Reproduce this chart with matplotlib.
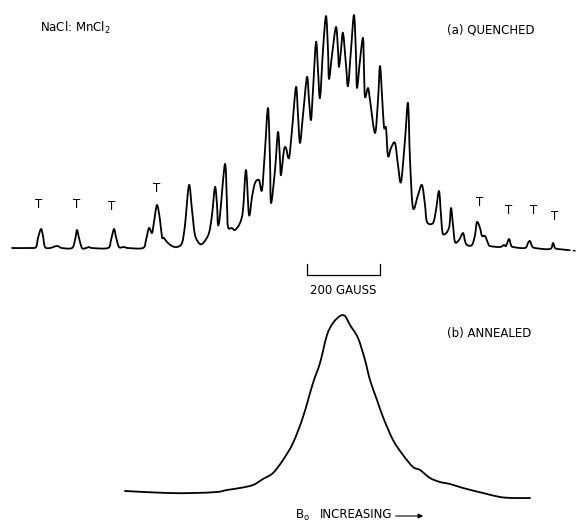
import numpy as np
from matplotlib import pyplot as plt
from matplotlib.path import Path
from matplotlib.patches import PathPatch

plt.rcParams['mathtext.default'] = 'regular'

# (a) quenched spectrum: field position (chart units) and signal above baseline
field_a = [12, 30, 36, 38, 41, 43, 45, 50, 57, 62, 72, 75, 77, 79, 82, 86, 89, 92,
           108, 111, 114, 116, 119, 124, 128, 143, 146, 149, 152, 154, 157, 160,
           162, 164, 167, 172, 177, 182, 185, 189, 192, 195, 200, 204, 209, 212,
           215, 217, 218, 220, 225, 227, 228, 232, 235, 240, 243, 246, 249, 252,
           255, 259, 262, 265, 268, 270, 271, 275, 278, 280, 281, 284, 286, 289,
           292, 296, 298, 300, 303, 307, 309, 311, 313, 316, 318, 320, 323, 326,
           328, 329, 332, 336, 338, 339, 341, 343, 346, 348, 351, 354, 356, 357,
           360, 363, 364, 365, 368, 370, 375, 378, 380, 382, 384, 386, 388, 391,
           395, 398, 401, 405, 408, 410, 413, 418, 422, 425, 427, 433, 436, 439,
           441, 443, 449, 451, 453, 455, 459, 463, 465, 467, 472, 475, 477, 480,
           482, 485, 488, 490, 500, 504, 506, 509, 511, 513, 525, 528, 530, 532,
           535, 550, 553, 555, 558, 568]
signal_a = [0, 0, 1, 10, 19, 12, 1, 0, 2, 0, 0, 8, 18, 10, 0, 0, 1, 0,
            0, 8, 19, 11, 1, 1, 0, 0, 8, 20, 15, 26, 43, 28,
            11, 10, 6, 2, 1, 5, 23, 63, 38, 13, 4, 6, 15, 33,
            61, 43, 23, 33, 84, 43, 21, 20, 18, 25, 38, 78, 33, 51,
            65, 68, 58, 98, 140, 88, 45, 78, 116, 88, 73, 98, 100, 90,
            118, 161, 133, 105, 133, 171, 148, 128, 158, 206, 178, 150, 198, 232,
            198, 169, 193, 221, 198, 181, 198, 215, 183, 162, 198, 233, 193, 160,
            188, 210, 178, 151, 160, 148, 115, 148, 182, 153, 121, 120, 92, 100,
            105, 83, 66, 108, 145, 88, 40, 53, 63, 43, 26, 25, 38, 57,
            33, 14, 20, 40, 23, 6, 8, 15, 7, 3, 3, 13, 26, 20,
            12, 12, 5, 2, 1, 3, 2, 9, 3, 1, 0, 5, 7, 2,
            0, -1, 5, 0, -1, -2]
tail_field_a = [568, 577]
tail_signal_a = [-2, -3]

# "T" marks over the lines of the second species
t_field = [39, 77, 112, 157, 480, 509, 534, 555]
t_height = [44, 44, 42, 60, 46, 38, 38, 32]

# (b) annealed spectrum
field_b = [125, 167, 193, 217, 227, 240, 253, 263, 273, 283, 293, 303, 313, 320,
           327, 333, 340, 345, 350, 358, 365, 370, 377, 383, 393, 403, 413, 420,
           430, 440, 450, 463, 483, 500, 513, 530]
signal_b = [2, 0, 0, 1, 3, 5, 8, 14, 20, 33, 50, 76, 110, 130,
            158, 170, 177, 177, 168, 155, 133, 113, 93, 76, 53, 38, 26, 23,
            15, 11, 9, 5, 0, -4, -5, -5]

bar_start, bar_end = 307, 380  # 200 gauss

base_a = 275
base_b = 30


def smooth_trace(ax, x, y, tension=0.16, **kw):
    """Pen-like curve through the traced points (Catmull-Rom as cubic Beziers)."""
    pts = np.column_stack([x, y]).astype(float)
    verts = [pts[0]]
    codes = [Path.MOVETO]
    for i in range(len(pts) - 1):
        p0 = pts[max(i - 1, 0)]
        p1, p2 = pts[i], pts[i + 1]
        p3 = pts[min(i + 2, len(pts) - 1)]
        c1 = p1 + (p2 - p0) * tension
        c2 = p2 - (p3 - p1) * tension
        # keep control points inside the segment's x range so peaks do not loop
        c1[0] = np.clip(c1[0], p1[0], p2[0])
        c2[0] = np.clip(c2[0], p1[0], p2[0])
        verts += [c1, c2, p2]
        codes += [Path.CURVE4] * 3
    ax.add_patch(PathPatch(Path(verts, codes), fill=False, **kw))


fig = plt.figure(figsize=(5.78, 5.23), dpi=100)
ax = fig.add_axes([0, 0, 1, 1])
ax.set_xlim(0, 578)
ax.set_ylim(0, 523)
ax.axis('off')

line_kw = dict(edgecolor='black', lw=1.3, joinstyle='round', capstyle='round')
smooth_trace(ax, field_a, np.array(signal_a) + base_a, **line_kw)
ax.plot(tail_field_a, np.array(tail_signal_a) + base_a, color='black', lw=1.0,
        ls=(0, (2, 1.5)))
smooth_trace(ax, field_b, np.array(signal_b) + base_b, **line_kw)

for f, h in zip(t_field, t_height):
    ax.text(f, base_a + h, 'T', ha='center', va='center', fontsize=8.5)

# scale bar
ax.plot([bar_start, bar_start, bar_end, bar_end],
        [base_a - 16, base_a - 27, base_a - 27, base_a - 16], color='black', lw=0.9)
ax.text((bar_start + bar_end) / 2, base_a - 42, '200 GAUSS', ha='center', va='center',
        fontsize=8.5)

ax.text(40, 495, 'NaCl: MnCl$_2$', ha='left', va='center', fontsize=8.5)
ax.text(447, 493, '(a) QUENCHED', ha='left', va='center', fontsize=8.5)
ax.text(447, 190, '(b) ANNEALED', ha='left', va='center', fontsize=8.5)

ax.text(295, 8, 'B$_o$', ha='left', va='center', fontsize=8.5)
ax.text(320, 8, 'INCREASING', ha='left', va='center', fontsize=8.5)
ax.annotate('', xy=(426, 7), xytext=(393, 7),
            arrowprops=dict(arrowstyle='-|>', color='black', lw=0.8,
                            mutation_scale=7))

fig.savefig('out.png', dpi=100)
